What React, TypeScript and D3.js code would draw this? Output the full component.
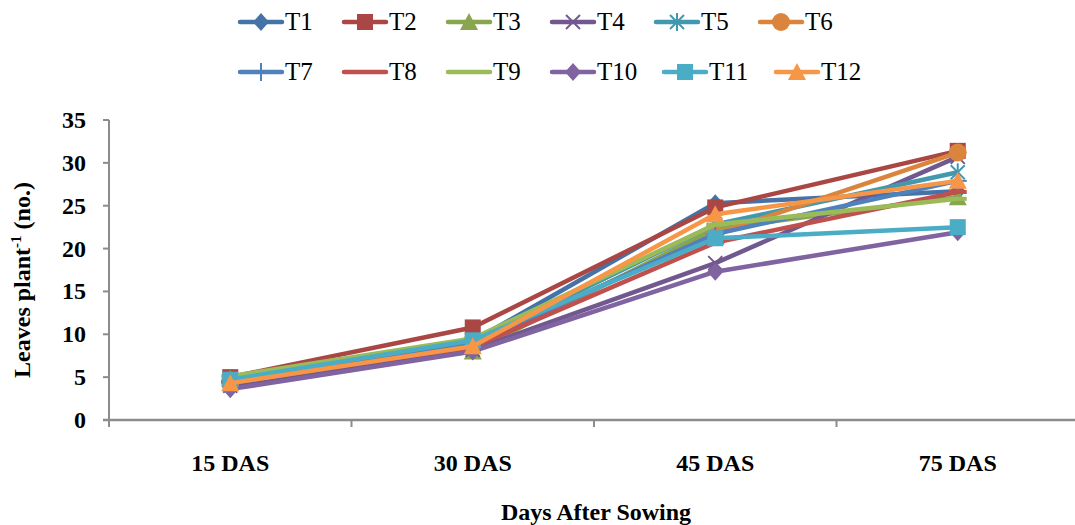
import React from "react";
import * as d3 from "d3";

const categories = ["15 DAS", "30 DAS", "45 DAS", "75 DAS"];
const seriesNames = ["T1", "T2", "T3", "T4", "T5", "T6", "T7", "T8", "T9", "T10", "T11", "T12"];
const T1 = [4.5, 9.2, 25.3, 26.7];
const T2 = [5.0, 10.8, 24.8, 31.4];
const T3 = [4.8, 8.0, 22.3, 26.0];
const T4 = [4.0, 8.2, 18.3, 30.7];
const T5 = [4.6, 9.0, 22.8, 28.9];
const T6 = [4.3, 8.8, 21.7, 31.2];
const T7 = [4.4, 8.8, 21.7, 27.9];
const T8 = [4.5, 8.5, 20.7, 26.6];
const T9 = [5.1, 9.5, 22.8, 25.8];
const T10 = [3.6, 8.0, 17.3, 21.9];
const T11 = [4.7, 9.3, 21.2, 22.5];
const T12 = [4.3, 8.6, 24.0, 27.9];
const seriesValues = [T1, T2, T3, T4, T5, T6, T7, T8, T9, T10, T11, T12];
const colors = ["#4572A7", "#AA4643", "#89A54E", "#71588F", "#4198AF", "#DB843D", "#4F81BD", "#C0504D", "#9BBB59", "#8064A2", "#4BACC6", "#F79646"];
const markers = ["diamond", "square", "triangle", "x", "star", "circle", "plus", "dash", "dash", "diamond", "square", "triangle"];
const yTicks = [0, 5, 10, 15, 20, 25, 30, 35];

function Marker({ type, x, y, color }: { type: string; x: number; y: number; color: string }) {
  switch (type) {
    case "diamond":
      return <path d={`M${x},${y - 9}L${x + 8},${y}L${x},${y + 9}L${x - 8},${y}Z`} fill={color} />;
    case "square":
      return <rect x={x - 8} y={y - 8} width={16} height={16} fill={color} />;
    case "triangle":
      return <path d={`M${x},${y - 9}L${x + 9},${y + 8}L${x - 9},${y + 8}Z`} fill={color} />;
    case "circle":
      return <circle cx={x} cy={y} r={9} fill={color} />;
    case "x":
      return (
        <g stroke={color} strokeWidth={2}>
          <line x1={x - 7} y1={y - 7} x2={x + 7} y2={y + 7} />
          <line x1={x - 7} y1={y + 7} x2={x + 7} y2={y - 7} />
        </g>
      );
    case "star":
      return (
        <g stroke={color} strokeWidth={2}>
          <line x1={x - 7} y1={y - 7} x2={x + 7} y2={y + 7} />
          <line x1={x - 7} y1={y + 7} x2={x + 7} y2={y - 7} />
          <line x1={x} y1={y - 9} x2={x} y2={y + 9} />
        </g>
      );
    case "plus":
      return (
        <g stroke={color} strokeWidth={2}>
          <line x1={x} y1={y - 9} x2={x} y2={y + 9} />
          <line x1={x - 9} y1={y} x2={x + 9} y2={y} />
        </g>
      );
    case "dash":
      return <line x1={x - 9} y1={y} x2={x + 9} y2={y} stroke={color} strokeWidth={4} />;
    default:
      return null;
  }
}

export default function App() {
  const width = 1075;
  const height = 525;
  const left = 109;
  const bandW = 242.5;
  const x = d3
    .scaleBand<string>()
    .domain(categories)
    .range([left, left + bandW * categories.length]);
  const y = d3.scaleLinear().domain([0, 35]).range([420, 120]);
  const line = d3
    .line<number>()
    .x((_, i) => (x(categories[i]) as number) + x.bandwidth() / 2)
    .y((d) => y(d));

  const axisColor = "#8c8c8c";
  const fam = "'Times New Roman', 'Liberation Serif', 'DejaVu Serif', Georgia, serif";
  const serif = { fontFamily: fam };
  const bold = { fontFamily: fam, fontWeight: 700 as const };

  const legendRows = [seriesNames.slice(0, 6), seriesNames.slice(6)];
  const rowY = [22, 72];
  const lineLen = 42;
  const charW = (s: string) => (s.length === 2 ? 22 : 30);

  return (
    <svg width={width} height={height} style={{ position: "absolute", left: 0, top: 0 }}>
      <rect width={width} height={height} fill="#fff" />
      {legendRows.map((row, ri) => {
        let cx = 240;
        return row.map((name) => {
          const idx = seriesNames.indexOf(name);
          const x0 = cx;
          cx += lineLen + 4 + charW(name) + 36;
          const yy = rowY[ri];
          return (
            <g key={name}>
              <line x1={x0} y1={yy} x2={x0 + lineLen} y2={yy} stroke={colors[idx]} strokeWidth={4.5} strokeLinecap="round" />
              <Marker type={markers[idx]} x={x0 + lineLen / 2} y={yy} color={colors[idx]} />
              <text x={x0 + lineLen + 3} y={yy + 8} style={serif} fontSize={25} fill="#000">
                {name}
              </text>
            </g>
          );
        });
      })}

      <line x1={left} y1={y(35)} x2={left} y2={y(0)} stroke={axisColor} strokeWidth={2} />
      <line x1={left - 6} y1={y(0)} x2={width} y2={y(0)} stroke={axisColor} strokeWidth={2.5} />
      {yTicks.map((t) => (
        <g key={t}>
          <line x1={left - 6} y1={y(t)} x2={left} y2={y(t)} stroke={axisColor} strokeWidth={2} />
          <text x={left - 23} y={y(t) + 8} textAnchor="end" style={bold} fontSize={24} fill="#000">
            {t}
          </text>
        </g>
      ))}
      {categories.map((c) => (
        <line key={"tk" + c} x1={x(c) as number} y1={y(0)} x2={x(c) as number} y2={y(0) + 7} stroke={axisColor} strokeWidth={2} />
      ))}
      {categories.map((c) => (
        <text key={"lb" + c} x={(x(c) as number) + x.bandwidth() / 2} y={471} textAnchor="middle" style={bold} fontSize={24} fill="#000">
          {c}
        </text>
      ))}
      <text x={596} y={520} textAnchor="middle" style={bold} fontSize={24} fill="#000">
        Days After Sowing
      </text>
      <text transform="translate(30,280) rotate(-90)" textAnchor="middle" style={bold} fontSize={24} fill="#000">
        Leaves plant
        <tspan fontSize={15} dy={-9}>-1</tspan>
        <tspan dy={9}> (no.)</tspan>
      </text>

      {seriesValues.map((vals, si) => (
        <g key={seriesNames[si]}>
          <path d={line(vals) as string} fill="none" stroke={colors[si]} strokeWidth={4.5} strokeLinejoin="round" />
          {vals.map((v, i) => (
            <Marker key={i} type={markers[si]} x={(x(categories[i]) as number) + x.bandwidth() / 2} y={y(v)} color={colors[si]} />
          ))}
        </g>
      ))}
    </svg>
  );
}
